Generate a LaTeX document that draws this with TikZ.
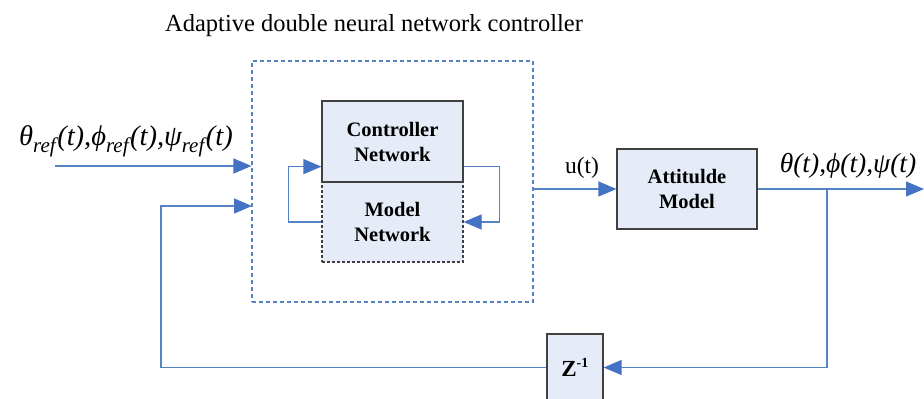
\documentclass[tikz,border=0pt]{standalone}
\usepackage{fontspec}
\setmainfont{Liberation Serif}
\usetikzlibrary{arrows.meta}
\definecolor{lineblue}{RGB}{84,132,198}
\definecolor{tipblue}{RGB}{68,114,196}
\definecolor{boxfill}{RGB}{230,236,247}
\definecolor{boxedge}{RGB}{64,64,64}
\newcommand{\lowsub}[1]{\raisebox{-0.27em}{\fontsize{21}{21}\selectfont #1}\kern1.5pt}
\tikzset{
  blockbox/.style={draw=boxedge, fill=boxfill, line width=1.2pt, align=center,
    font=\fontsize{20.5}{25}\selectfont\bfseries, inner sep=0pt},
  wire/.style={draw=lineblue, line width=1.2pt},
  arr/.style={wire, -{Triangle[length=18pt,width=15pt,color=tipblue,fill=tipblue]}},
  groupbox/.style={draw=lineblue, dashed, line width=1.1pt, dash pattern=on 4pt off 3pt,
    inner sep=0pt},
  lbl/.style={inner sep=0pt}
}
\begin{document}
\begin{tikzpicture}[x=1pt,y=-1pt]
\useasboundingbox (0,0) rectangle (924,399);

% dashed group around the two networks
\node[groupbox, minimum width=281pt, minimum height=241pt] (adnn) at (392.5,181.5) {};
\node[lbl, anchor=base, font=\fontsize{24.5}{28}\selectfont] (title) at (374,31)
  {Adaptive double neural network controller};

% controller / model networks
\node[blockbox, dashed, dash pattern=on 3pt off 2pt, minimum width=141pt, minimum height=80pt]
  (model) at (392.5,222) {Model\\Network};
\node[blockbox, minimum width=141pt, minimum height=81pt]
  (ctrl) at (392.5,141.5) {Controller\\Network};

% plant and delay
\node[blockbox, minimum width=140pt, minimum height=80pt] (att) at (687,189) {Attitulde\\Model};
\node[blockbox, minimum width=56pt, minimum height=67pt, font=\fontsize{23}{25}\selectfont\bfseries]
  (zdel) at (575,367.5) {Z\textsuperscript{\fontsize{14}{14}\selectfont -1}};

% inner loops
\draw[arr] (model.west) -- ++(-33,0) |- ([yshift=16pt]ctrl.south west);
\draw[arr] ([yshift=16pt]ctrl.south east) -- ++(36,0) |- (model.east);

% reference input
\coordinate (inL) at (55,166);
\draw[arr] (inL) -- (inL -| adnn.west);
\node[lbl, anchor=base, font=\fontsize{28.5}{30}\selectfont\itshape] (reflbl) at (126,145)
  {θ\lowsub{ref}(t),ϕ\lowsub{ref}(t),ψ\lowsub{ref}(t)};

% control signal
\draw[arr] (att.west -| adnn.east) -- (att.west);
\node[lbl, anchor=base, font=\fontsize{23.5}{26}\selectfont] (ulbl) at (582,173) {u(t)};

% output and feedback
\coordinate (outR) at (924,189);
\coordinate (br) at (827,189);
\draw[arr] (att.east) -- (outR);
\node[lbl, anchor=base, font=\fontsize{27.5}{30}\selectfont\itshape] (outlbl) at (848,172) {θ(t),ϕ(t),ψ(t)};
\draw[arr] (br) |- (zdel.east);
\coordinate (fbin) at (252,206);
\draw[arr] (zdel.west) -| (161,206) -- (fbin);
\end{tikzpicture}
\end{document}
